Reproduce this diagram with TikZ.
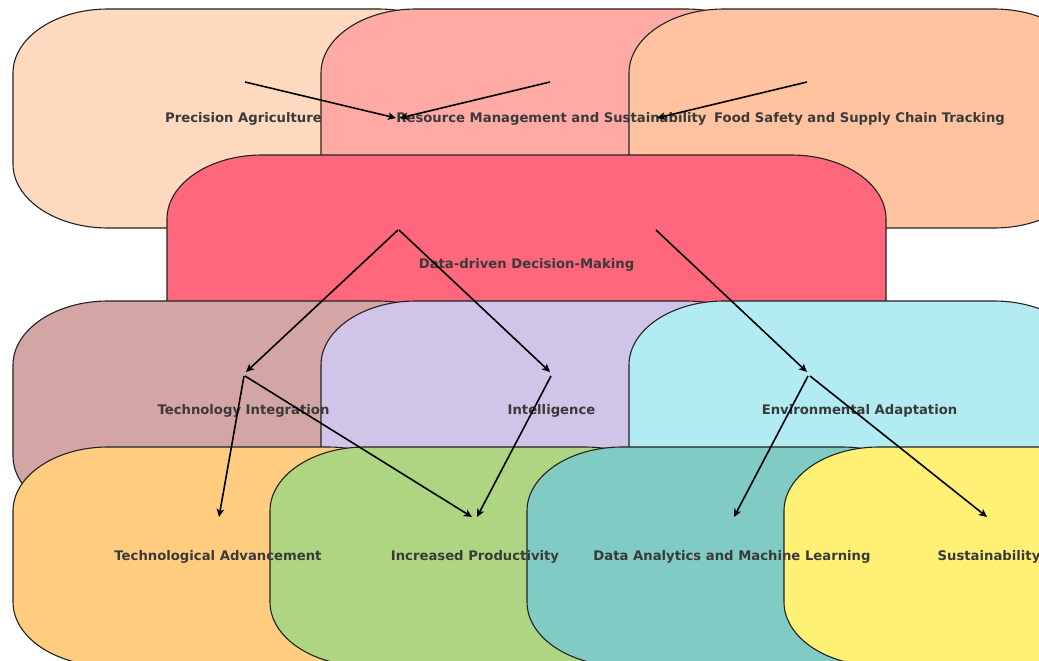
\documentclass[tikz,border=0pt]{standalone}
\usepackage{fontspec}
\setmainfont{DejaVu Sans}
\usetikzlibrary{arrows.meta}
\definecolor{cPA}{HTML}{FFDAC1}
\definecolor{cRM}{HTML}{FFAAA5}
\definecolor{cFS}{HTML}{FFC3A0}
\definecolor{cDD}{HTML}{FF677D}
\definecolor{cTI}{HTML}{D4A5A5}
\definecolor{cIN}{HTML}{D1C4E9}
\definecolor{cEA}{HTML}{B2EBF2}
\definecolor{cTA}{HTML}{FFCC80}
\definecolor{cIP}{HTML}{AED581}
\definecolor{cDA}{HTML}{80CBC4}
\definecolor{cSU}{HTML}{FFF176}
\definecolor{edgec}{HTML}{222222}
\definecolor{txtc}{HTML}{3A3A3A}
\newcommand{\rbox}[5]{%
  \filldraw[fill=#5,draw=edgec,line width=1.1pt]
    (#1,#2+64) .. controls (#1,#2+28.7) and (#1+42.5,#2) .. (#1+95,#2)
    -- (#3-95,#2) .. controls (#3-42.5,#2) and (#3,#2+28.7) .. (#3,#2+64)
    -- (#3,#4-64) .. controls (#3,#4-28.7) and (#3-42.5,#4) .. (#3-95,#4)
    -- (#1+95,#4) .. controls (#1+42.5,#4) and (#1,#4-28.7) .. (#1,#4-64)
    -- cycle;}
\tikzset{
  lbl/.style={text=txtc,font=\fontsize{13.2}{16}\selectfont\bfseries,inner sep=0pt},
  conn/.style={black,line width=1.6pt,-{Stealth[length=8pt,width=7.5pt,inset=2pt]}},
}
\begin{document}
\begin{tikzpicture}[x=1pt,y=-1pt]
\useasboundingbox (0,0) rectangle (1039,661);
\clip (0,0) rectangle (1039,661);
% row 1
\rbox{13}{9}{473}{228}{cPA}
\rbox{321}{9}{781}{228}{cRM}
\rbox{629}{9}{1089}{228}{cFS}
% row 2
\rbox{167}{155}{886}{374}{cDD}
% row 3
\rbox{13}{301}{473}{520}{cTI}
\rbox{321}{301}{781}{520}{cIN}
\rbox{629}{301}{1089}{520}{cEA}
% row 4
\rbox{13}{447}{423}{666}{cTA}
\rbox{270}{447}{680}{666}{cIP}
\rbox{527}{447}{937}{666}{cDA}
\rbox{784}{447}{1194}{666}{cSU}
% labels
\node[lbl] (PA) at (243.5,119) {Precision Agriculture};
\node[lbl] (RM) at (551.5,119) {Resource Management and Sustainability};
\node[lbl] (FS) at (859.5,119) {Food Safety and Supply Chain Tracking};
\node[lbl] (DD) at (526.5,265) {Data-driven Decision-Making};
\node[lbl] (TI) at (243.5,411) {Technology Integration};
\node[lbl] (IN) at (551.5,411) {Intelligence};
\node[lbl] (EA) at (859.5,411) {Environmental Adaptation};
\node[lbl] (TA) at (218,557) {Technological Advancement};
\node[lbl] (IP) at (475,557) {Increased Productivity};
\node[lbl] (DA) at (732,557) {Data Analytics and Machine Learning};
\node[lbl] (SU) at (989,557) {Sustainability};
% connector ends
\coordinate (PA-o) at (245,82);
\coordinate (RM-o) at (550,82);
\coordinate (FS-o) at (807,82);
\coordinate (RM-i1) at (396,118);
\coordinate (RM-i2) at (400,118);
\coordinate (FS-i) at (657,118);
\coordinate (DD-o1) at (398,230);
\coordinate (DD-o2) at (399,230);
\coordinate (DD-o3) at (656,230);
\coordinate (TI-i) at (246,372);
\coordinate (IN-i) at (550,372);
\coordinate (EA-i) at (807,372);
\coordinate (TI-o1) at (244,376);
\coordinate (TI-o2) at (245,376);
\coordinate (IN-o) at (551,376);
\coordinate (EA-o1) at (808,376);
\coordinate (EA-o2) at (810,376);
\coordinate (TA-i) at (219,517);
\coordinate (IP-i1) at (472,517);
\coordinate (IP-i2) at (477,517);
\coordinate (DA-i) at (734,517);
\coordinate (SU-i) at (987,517);
% connectors
\draw[conn] (PA-o) -- (RM-i1);
\draw[conn] (RM-o) -- (RM-i2);
\draw[conn] (FS-o) -- (FS-i);
\draw[conn] (DD-o1) -- (TI-i);
\draw[conn] (DD-o2) -- (IN-i);
\draw[conn] (DD-o3) -- (EA-i);
\draw[conn] (TI-o1) -- (TA-i);
\draw[conn] (TI-o2) -- (IP-i1);
\draw[conn] (IN-o) -- (IP-i2);
\draw[conn] (EA-o1) -- (DA-i);
\draw[conn] (EA-o2) -- (SU-i);
\end{tikzpicture}
\end{document}
